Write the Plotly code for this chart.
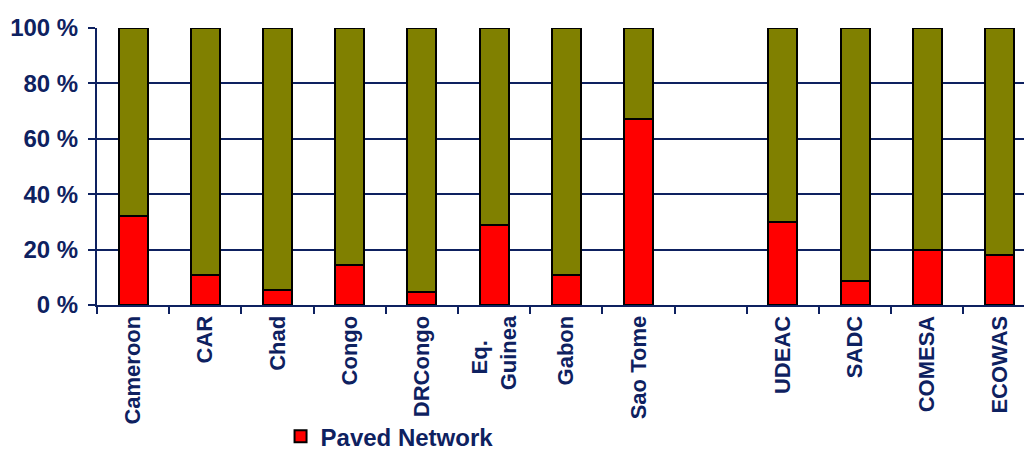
import plotly.graph_objects as go

# Road network composition by country / regional bloc (% of total length)
categories = ["Cameroon", "CAR", "Chad", "Congo", "DRCongo",
              "Eq.\u00a0\u00a0\u00a0\u00a0<br>Guinea",
              "Gabon", "Sao Tome", "", "UDEAC", "SADC", "COMESA", "ECOWAS"]
paved = [32, 11, 5.5, 14.5, 4.8, 29, 11, 67, None, 29.8, 8.8, 19.9, 17.9]
unpaved = [68, 89, 94.5, 85.5, 95.2, 71, 89, 33, None, 70.2, 91.2, 80.1, 82.1]
y_ticks = [0, 20, 40, 60, 80, 100]
y_tick_text = ["0 %", "20 %", "40 %", "60 %", "80 %", "100 %"]

NAVY = "#0e2160"
FONT = "Liberation Sans, Arial, sans-serif"

fig = go.Figure()
fig.add_trace(go.Bar(
    x=categories, y=paved, name="Paved Network",
    marker=dict(color="#ff0000", line=dict(color="#000000", width=2)),
    width=0.4,
))
fig.add_trace(go.Bar(
    x=categories, y=unpaved, name="Unpaved Network", showlegend=False,
    marker=dict(color="#808000", line=dict(color="#000000", width=2)),
    width=0.4,
))

fig.update_layout(
    barmode="stack",
    width=1024, height=452,
    margin=dict(l=97, r=0, t=28, b=147, autoexpand=False),
    paper_bgcolor="white", plot_bgcolor="white",
    font=dict(family=FONT, color=NAVY, size=20, weight="bold"),
    showlegend=True,
    legend=dict(
        orientation="h", x=0.198, xanchor="left", y=-0.475, yanchor="middle",
        font=dict(family=FONT, size=24, color=NAVY, weight="bold"),
        bgcolor="rgba(0,0,0,0)", itemwidth=30,
    ),
)

fig.update_xaxes(
    type="category", categoryorder="array", categoryarray=categories,
    range=[-0.5, 12.34], automargin=False,
    tickson="boundaries", ticks="outside", ticklen=7, tickwidth=2,
    tickcolor=NAVY, tickangle=-90,
    tickfont=dict(family=FONT, size=22, color=NAVY, weight="bold"),
    showline=True, linecolor=NAVY, linewidth=2,
    showgrid=False, zeroline=False,
)
fig.update_yaxes(
    range=[0, 100], tickvals=y_ticks, ticktext=y_tick_text, automargin=False,
    ticks="outside", ticklen=7, tickwidth=2, tickcolor=NAVY,
    ticklabelstandoff=5,
    tickfont=dict(family=FONT, size=24, color=NAVY, weight="bold"),
    showline=True, linecolor=NAVY, linewidth=2,
    showgrid=True, gridcolor=NAVY, gridwidth=2,
    zeroline=False,
)

fig.write_html("out.html")
